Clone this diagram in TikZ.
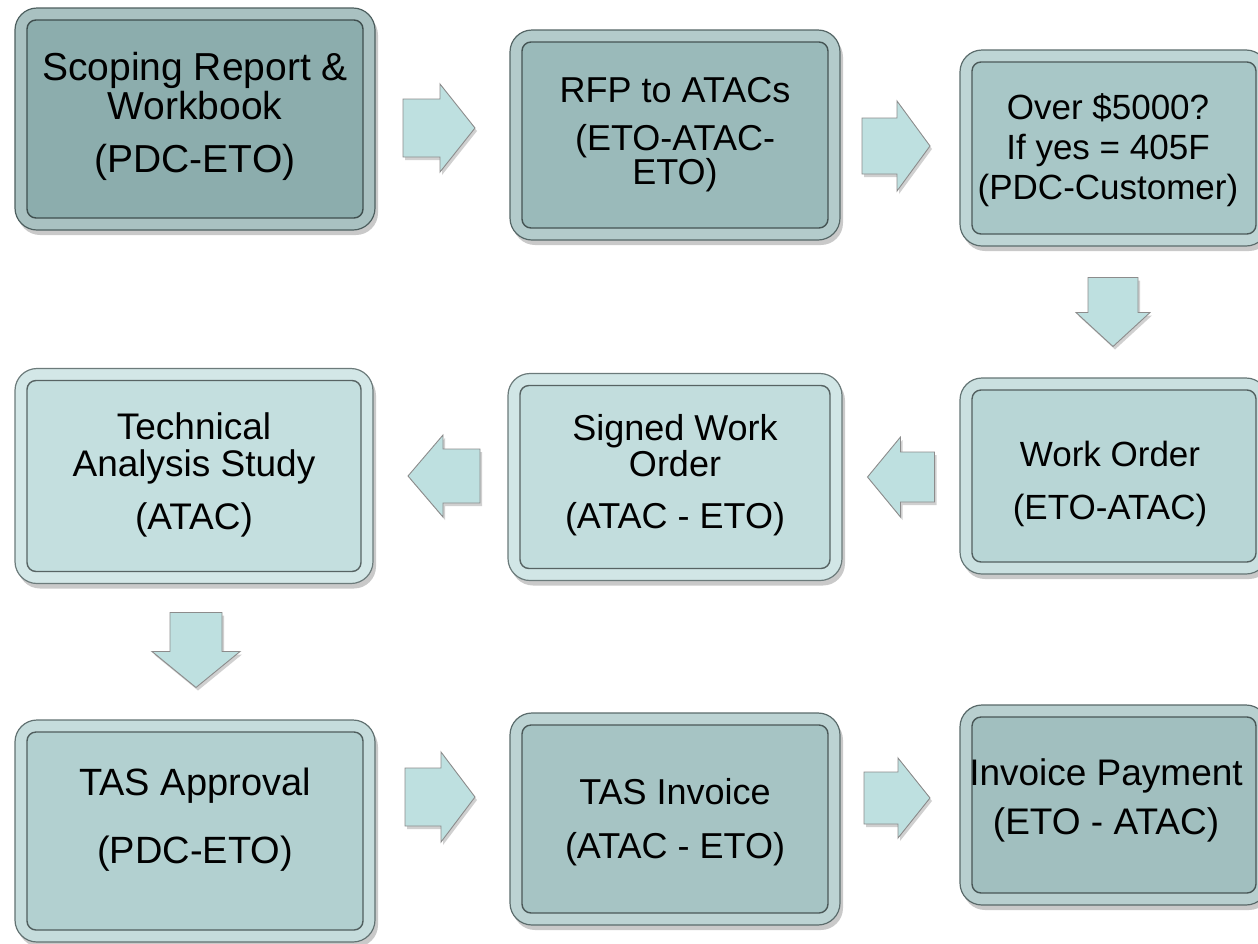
\documentclass[tikz,border=0pt]{standalone}
\usepackage{fontspec}
\setmainfont{Liberation Sans}
\usetikzlibrary{shadows}
\definecolor{cA}{HTML}{8CADAD}
\definecolor{cB}{HTML}{9ABABA}
\definecolor{cC}{HTML}{A8C7C7}
\definecolor{cD}{HTML}{B8D6D6}
\definecolor{cE}{HTML}{C2DDDD}
\definecolor{cF}{HTML}{C4DFDF}
\definecolor{cG}{HTML}{B2D0D0}
\definecolor{cH}{HTML}{A6C4C4}
\definecolor{cI}{HTML}{A1BFBF}
\definecolor{arrowfill}{HTML}{BEE0E0}
\tikzset{
  boxouter/.style={rounded corners=22pt, fill=#1!75!white, draw=#1!55!black, line width=1.2pt,
    drop shadow={shadow xshift=3pt, shadow yshift=-5pt, opacity=0.35, fill=black!60}},
  boxinner/.style={rounded corners=9pt, fill=#1, draw=#1!45!black, line width=1.4pt},
  boxtext/.style={align=center, text=black, font=\fontsize{#1}{#1}\selectfont},
  flowarrow/.style={fill=arrowfill, draw=black!45, line width=0.9pt, line join=miter,
    drop shadow={shadow xshift=2pt, shadow yshift=-3pt, opacity=0.3, fill=black!60}}
}
% name, cx, cy, W, H, color
\newcommand{\procbox}[6]{%
  \node[boxouter=#6, minimum width=#4pt, minimum height=#5pt, inner sep=0pt] (#1) at (#2,#3) {};
  \node[boxinner=#6, minimum width={#4pt-24pt}, minimum height={#5pt-24pt}, inner sep=0pt] (#1in) at (#1) {};
}
% name, cx, cy, angle, L, head half, body half, head length
\newcommand{\blockarrow}[8]{%
  \begin{scope}[shift={(#2,#3)}, rotate=#4]
    \path[flowarrow] ({-0.5*#5},{-#7}) -- ({0.5*#5-#8},{-#7}) -- ({0.5*#5-#8},{-#6}) -- ({0.5*#5},0)
      -- ({0.5*#5-#8},{#6}) -- ({0.5*#5-#8},{#7}) -- ({-0.5*#5},{#7}) -- cycle;
    \coordinate (#1) at (0,0);
  \end{scope}}
\begin{document}
\begin{tikzpicture}[x=1pt, y=-1pt]
\useasboundingbox[fill=white] (0,0) rectangle (1258,943);
% boxes
\procbox{b1}{195}{119}{360}{222}{cA}
\procbox{b2}{675}{135}{330}{210}{cB}
\procbox{b3}{1114}{148}{308}{196}{cC}
\procbox{b4}{1114}{476}{308}{196}{cD}
\procbox{b5}{675}{477}{334}{207}{cE}
\procbox{b6}{194}{476}{358}{215}{cF}
\procbox{b7}{195}{831}{360}{222}{cG}
\procbox{b8}{675}{819}{330}{212}{cH}
\procbox{b9}{1114}{805}{308}{200}{cI}
% texts
\node[boxtext=39] (t1) at (195,116) {Scoping Report \&\\[0pt] Workbook\\[14pt] (PDC-ETO)};
\node[boxtext=36] (t2) at (675,135) {RFP to ATACs\\[12pt] (ETO-ATAC-\\[-2pt] ETO)};
\node[boxtext=35] (t3) at (1108,150) {Over \$5000?\\[5pt] If yes = 405F\\[5pt] (PDC-Customer)};
\node[boxtext=35] (t4) at (1110,484) {Work Order\\[18pt] (ETO-ATAC)};
\node[boxtext=36] (t5) at (675,475) {Signed Work\\[0pt] Order\\[16pt] (ATAC - ETO)};
\node[boxtext=37] (t6) at (194,475) {Technical\\[0pt] Analysis Study\\[16pt] (ATAC)};
\node[boxtext=38] (t7) at (195,820) {TAS Approval\\[30pt] (PDC-ETO)};
\node[boxtext=36] (t8) at (675,822) {TAS Invoice\\[18pt] (ATAC - ETO)};
\node[boxtext=37] (t9) at (1106,800) {Invoice Payment\\[12pt] (ETO - ATAC)};
% arrows
\blockarrow{a1}{439}{128}{0}{72}{44}{29}{35}
\blockarrow{a2}{896}{146}{0}{68}{45}{28}{33}
\blockarrow{a3}{1113}{312}{-90}{69}{37}{25}{34}
\blockarrow{a4}{901}{477}{180}{67}{40}{25}{33}
\blockarrow{a5}{444}{476}{180}{72}{41}{27}{35}
\blockarrow{a6}{196}{650}{-90}{75}{44}{26}{36}
\blockarrow{a7}{440}{797}{0}{70}{45}{29}{34}
\blockarrow{a8}{897}{798}{0}{66}{40}{26}{32}
\end{tikzpicture}
\end{document}
